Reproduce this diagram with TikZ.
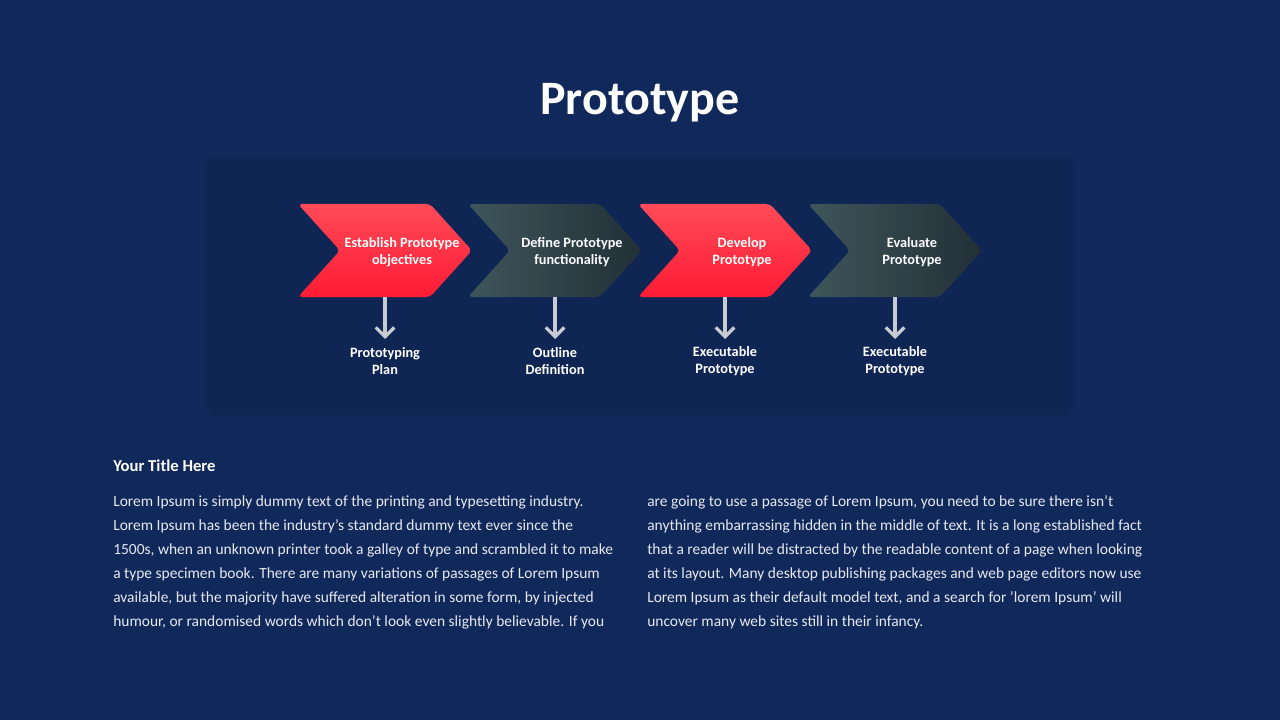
\documentclass[tikz,border=0pt]{standalone}
\usepackage{fontspec}
\setmainfont{Carlito}
\definecolor{bgblue}{HTML}{10285A}
\definecolor{panelblue}{HTML}{0F2655}
\definecolor{redtop}{HTML}{FF4A57}
\definecolor{redbot}{HTML}{FF1C34}
\definecolor{slateL}{HTML}{3E565B}
\definecolor{slateR}{HTML}{222F37}
\definecolor{arrowgray}{HTML}{C8CBD2}
\definecolor{bodytext}{HTML}{E6E9F0}
\tikzset{
  redstep/.style={top color=redtop, bottom color=redbot, draw=none},
  slatestep/.style={left color=slateL, right color=slateR, draw=none},
  steplabel/.style={text=white, font=\bfseries\fontsize{10.7}{12.8}\selectfont, align=center},
  outlabel/.style={text=white, font=\bfseries\fontsize{10.7}{12.8}\selectfont, align=center},
  downarrow/.style={arrowgray, line width=2.4pt, -{Straight Barb[length=7pt,width=14pt]}},
  bodypara/.style={text=bodytext, font=\fontsize{11.6}{18}\selectfont, align=left, anchor=north west, inner sep=0pt}
}
\usetikzlibrary{arrows.meta}
\begin{document}
\begin{tikzpicture}[x=0.75pt,y=0.75pt,yscale=-1,xscale=1]

\fill[bgblue] (0,0) rectangle (1280,720);
\useasboundingbox (0,0) rectangle (1280,720);

% panel
\fill[panelblue, rounded corners=6pt] (205,158) rectangle (1075,415);

\node[text=white, font=\bfseries\fontsize{36}{40}\selectfont] (title) at (640,103) {Prototype};

% chevrons
\foreach \i/\sty/\stepa/\stepb/\outa/\outb in {
  0/redstep/Establish Prototype/objectives/Prototyping/Plan,
  1/slatestep/Define Prototype/functionality/Outline/Definition,
  2/redstep/Develop/Prototype/Executable/Prototype,
  3/slatestep/Evaluate/Prototype/Executable/Prototype}{
  \pgfmathsetmacro{\xo}{298+170*\i}
  \path[\sty, rounded corners=3pt] (\xo,204) -- (\xo+132,204) -- (\xo+174,250.5) -- (\xo+132,297) -- (\xo,297) -- (\xo+42,250.5) -- cycle;
  \node[steplabel] (step\i) at (\xo+104,252) {\stepa\\\stepb};
  \coordinate (foot\i) at (\xo+87,297);
  \coordinate (tip\i) at (\xo+87,339);
  \draw[downarrow] (foot\i) -- (tip\i);
  \node[outlabel] (out\i) at (\xo+87,361) {\outa\\\outb};
}

\node[text=white, font=\bfseries\fontsize{12.5}{15}\selectfont, anchor=west, inner sep=0pt] (subtitle) at (113,466) {Your Title Here};

\node[bodypara] (colA) at (113,495) {Lorem Ipsum is simply dummy text of the printing and typesetting industry.\\
Lorem Ipsum has been the industry's standard dummy text ever since the\\
1500s, when an unknown printer took a galley of type and scrambled it to make\\
a type specimen book. There are many variations of passages of Lorem Ipsum\\
available, but the majority have suffered alteration in some form, by injected\\
humour, or randomised words which don't look even slightly believable. If you};

\node[bodypara] (colB) at (647,495) {are going to use a passage of Lorem Ipsum, you need to be sure there isn't\\
anything embarrassing hidden in the middle of text. It is a long established fact\\
that a reader will be distracted by the readable content of a page when looking\\
at its layout. Many desktop publishing packages and web page editors now use\\
Lorem Ipsum as their default model text, and a search for 'lorem Ipsum' will\\
uncover many web sites still in their infancy.};

\end{tikzpicture}
\end{document}
